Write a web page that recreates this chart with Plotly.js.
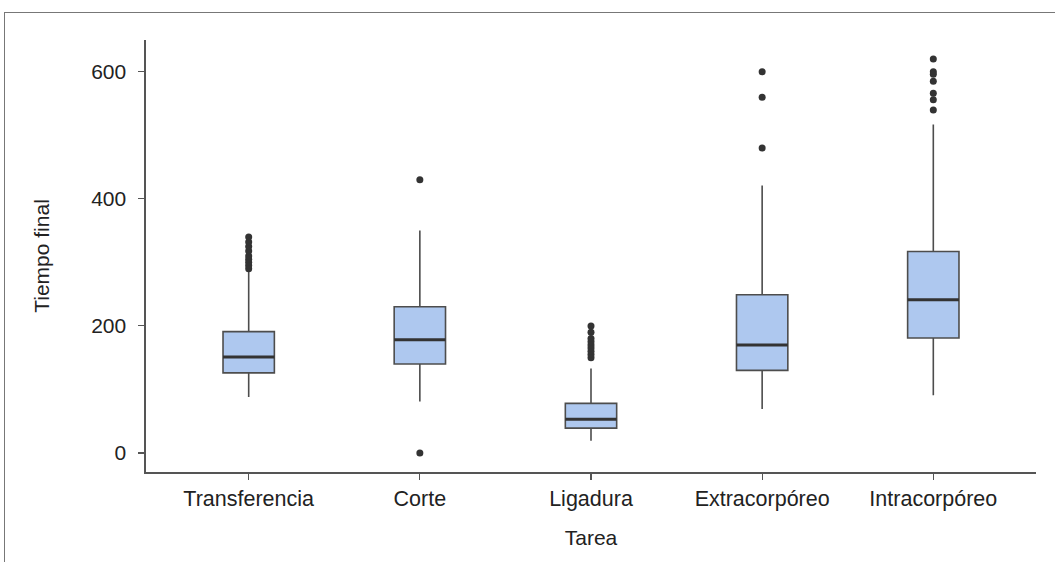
<!DOCTYPE html>
<html><head><meta charset="utf-8">
<script src="https://cdn.plot.ly/plotly-3.0.1.min.js"></script>
<style>
html,body{margin:0;padding:0;background:#fff;}
#chart{width:1055px;height:562px;position:relative;}
#frame{position:absolute;left:4px;top:12px;right:0;bottom:0;border-top:1px solid #777;border-left:1px solid #777;pointer-events:none;}
</style></head>
<body>
<div id="chart"></div>
<div id="frame"></div>
<script>
const categories = ["Transferencia", "Corte", "Ligadura", "Extracorpóreo", "Intracorpóreo"];
const lowerWhisker = [88, 81, 19, 69, 91];
const q1 = [126, 140, 39, 130, 181];
const median = [151, 178, 53, 170, 241];
const q3 = [191, 230, 78, 249, 317];
const upperWhisker = [285, 350, 133, 421, 517];
const outliers = [
  [290, 295, 300, 305, 310, 318, 325, 332, 340],
  [430, 0],
  [150, 155, 160, 165, 170, 175, 180, 190, 200],
  [600, 560, 480],
  [620, 600, 596, 585, 566, 556, 540]
];
const yTicks = [0, 200, 400, 600];

const idx = categories.map((c, i) => i);
const halfW = 0.15;
const medX = [], medY = [];
idx.forEach(i => { medX.push(i - halfW, i + halfW, null); medY.push(median[i], median[i], null); });
const outX = [], outY = [];
outliers.forEach((arr, i) => arr.forEach(v => { outX.push(i); outY.push(v); }));

const traces = [
  {
    type: 'box', x: idx, q1: q1, median: median, q3: q3,
    lowerfence: lowerWhisker, upperfence: upperWhisker,
    width: 0.3, boxpoints: false, whiskerwidth: 0,
    fillcolor: '#aec8ef', line: {color: '#4d4d4d', width: 1.6},
    hoverinfo: 'skip', showlegend: false
  },
  {
    type: 'scatter', mode: 'lines', x: medX, y: medY,
    line: {color: '#333333', width: 3}, hoverinfo: 'skip', showlegend: false
  },
  {
    type: 'scatter', mode: 'markers', x: outX, y: outY,
    marker: {color: '#333333', size: 7}, hoverinfo: 'skip', showlegend: false
  }
];

const font = {family: 'Liberation Sans, Arial, sans-serif', size: 21, color: '#222'};
const layout = {
  width: 1055, height: 562,
  margin: {l: 146, r: 19, t: 40, b: 90},
  paper_bgcolor: '#fff', plot_bgcolor: '#fff',
  font: font,
  showlegend: false,
  xaxis: {
    range: [-0.6, 4.6], tickmode: 'array', tickvals: idx, ticktext: categories,
    showgrid: false, zeroline: false, showline: true, linecolor: '#555', linewidth: 1.6,
    ticks: 'outside', ticklen: 6, tickcolor: '#555', tickwidth: 1.2,
    ticklabelstandoff: 1,
    tickfont: {size: 21.5, color: '#222'},
    automargin: false,
    title: {text: 'Tarea', font: {size: 21, color: '#222'}, standoff: 20}
  },
  yaxis: {
    range: [-30, 650], tickmode: 'array', tickvals: yTicks,
    showgrid: false, zeroline: false, showline: true, linecolor: '#555', linewidth: 1.6,
    ticks: 'outside', ticklen: 6, tickcolor: '#555', tickwidth: 1.2,
    ticklabelstandoff: 8,
    tickfont: {size: 21, color: '#222'},
    automargin: false,
    title: {text: 'Tiempo final', font: {size: 21, color: '#222'}, standoff: 36}
  }
};
Plotly.newPlot('chart', traces, layout, {displayModeBar: false, staticPlot: true});
</script>
</body></html>
